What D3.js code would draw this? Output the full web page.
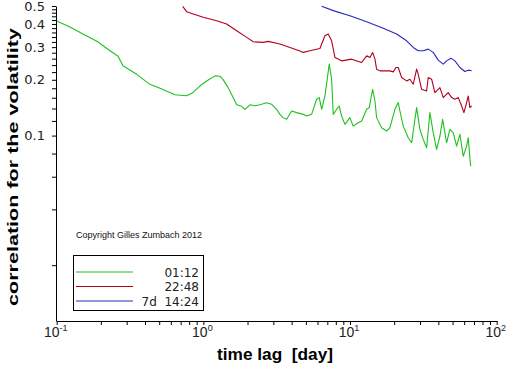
<!DOCTYPE html>
<html><head><meta charset="utf-8">
<script src="https://cdn.jsdelivr.net/npm/d3@7"></script>
<style>
body{margin:0;background:#fff;}
svg{display:block;}
</style></head>
<body>
<script>
// ---- data (lag in days, correlation) ----
const green0112 = [[0.1,0.415],[0.123,0.385],[0.151,0.353],[0.188,0.323],[0.231,0.287],[0.262,0.268],[0.283,0.238],[0.351,0.214],[0.432,0.189],[0.506,0.180],[0.640,0.166],[0.769,0.164],[0.835,0.169],[0.948,0.185],[1.053,0.197],[1.20,0.210],[1.297,0.209],[1.36,0.201],[1.472,0.182],[1.567,0.165],[1.687,0.1466],[1.824,0.1439],[1.921,0.1386],[2.078,0.1466],[2.247,0.1448],[2.431,0.1466],[2.701,0.1503],[2.922,0.1475],[3.16,0.1386],[3.327,0.1302],[3.50,0.125],[3.697,0.1224],[3.998,0.1357],[4.325,0.133],[4.797,0.1302],[5.06,0.1275],[5.472,0.1302],[5.92,0.157],[6.166,0.1603],[6.405,0.1386],[6.745,0.1636],[7.215,0.2428],[7.49,0.2013],[7.68,0.1302],[8.10,0.1386],[8.44,0.1444],[8.76,0.1275],[9.23,0.115],[9.98,0.125],[10.5,0.1125],[11.37,0.1174],[12.0,0.1199],[12.98,0.1386],[13.52,0.1416],[14.26,0.1778],[14.78,0.1537],[15.18,0.125],[16.42,0.1103],[17.77,0.1058],[18.71,0.1103],[20.23,0.1386],[21.31,0.1507],[21.89,0.1357],[23.05,0.1125],[24.93,0.0974],[26.3,0.0915],[27.7,0.1224],[28.45,0.1416],[29.96,0.108],[31.55,0.0954],[33.28,0.086],[35.05,0.133],[36.9,0.1037],[38.93,0.0842],[41.0,0.0994],[42.79,0.1224],[45.55,0.0915],[47.97,0.108],[50.51,0.1037],[53.3,0.0877],[56.14,0.1015],[59.13,0.0774],[62.36,0.0877],[63.94,0.0974],[66.4,0.0684]];
const red2248 = [[0.723,0.498],[0.769,0.466],[0.853,0.453],[0.998,0.435],[1.232,0.4166],[1.441,0.3998],[1.687,0.3677],[1.974,0.3387],[2.189,0.3206],[2.561,0.3182],[2.77,0.3222],[3.327,0.3116],[3.892,0.2989],[4.506,0.2867],[4.797,0.281],[5.33,0.2867],[6.234,0.2952],[6.745,0.3455],[7.10,0.3529],[7.49,0.3246],[7.89,0.2639],[8.76,0.253],[10.25,0.2584],[12.0,0.248],[12.98,0.2692],[13.67,0.2639],[14.26,0.281],[14.78,0.2584],[15.18,0.2282],[15.99,0.2234],[18.71,0.2234],[19.7,0.2207],[20.56,0.233],[21.31,0.233],[22.48,0.2058],[24.31,0.1972],[25.6,0.2014],[26.97,0.1892],[28.45,0.2282],[29.16,0.2144],[30.76,0.1778],[33.28,0.1741],[34.13,0.2058],[36.0,0.2014],[37.9,0.1706],[41.0,0.1816],[43.2,0.1603],[46.7,0.1706],[49.3,0.1603],[51.9,0.157],[54.7,0.1603],[57.65,0.1444],[59.76,0.133],[62.36,0.1507],[63.94,0.1636],[65.67,0.1416],[67.45,0.1444]];
const blue7d1424 = [[6.405,0.498],[7.68,0.472],[9.98,0.443],[12.98,0.4114],[16.84,0.379],[20.78,0.3529],[24.31,0.3246],[26.97,0.2989],[29.16,0.2867],[31.55,0.2867],[34.13,0.2926],[36.9,0.281],[39.93,0.2552],[43.2,0.2428],[45.55,0.253],[48.74,0.2616],[51.9,0.253],[56.14,0.233],[60.7,0.2218],[63.94,0.2254],[67.45,0.2237]];
const seriesNames = ["01:12", "22:48", "7d  14:24"];
const seriesColors = ["#1ec01e", "#b0001e", "#2828c0"];
const xMajorTicks = [0.1, 1, 10, 100];
const xMajorExponents = ["-1", "0", "1", "2"];
const yTickValues = d3.range(1, 26).map(i => +(i * 0.02).toFixed(2));
const yTickLabels = {0.1: "0.1", 0.2: "0.2", 0.3: "0.3", 0.4: "0.4", 0.5: "0.5"};
const xTitle = "time lag  [day]";
const yTitle = "correlation for the volatility";
const copyright = "Copyright Gilles Zumbach 2012";

// ---- layout ----
const W = 512, H = 366;
const svg = d3.select("body").append("svg").attr("width", W).attr("height", H);
const x = d3.scaleLog().domain([0.1, 100]).range([56.7, 496.7]);
const y = d3.scaleLog().domain([0.01, 0.5]).range([321, 6]);

const xMinor = [];
[0.1, 1, 10].forEach(d => { for (let k = 2; k <= 9; k++) xMinor.push(d * k); });

const xAxis = svg.append("g").attr("transform", "translate(0,321)")
  .call(d3.axisBottom(x).tickValues(xMajorTicks.concat(xMinor)).tickSize(4).tickSizeOuter(0).tickFormat(() => ""));
xAxis.select(".domain").attr("stroke", "#000");
xAxis.selectAll(".tick line").attr("stroke", "#000");

const xl = svg.append("g").attr("font-family", "Liberation Sans, Arial, sans-serif").attr("fill", "#222");
xMajorTicks.forEach((v, i) => {
  const t = xl.append("text").attr("x", x(v) - 1).attr("y", 337).attr("text-anchor", "middle").attr("font-size", 14);
  t.append("tspan").text("10");
  t.append("tspan").attr("font-size", 9).attr("dy", -6).text(xMajorExponents[i]);
});

const yAxis = svg.append("g").attr("transform", "translate(56,0)")
  .call(d3.axisLeft(y).tickValues(yTickValues).tickSize(4).tickSizeOuter(0)
    .tickFormat(d => yTickLabels[d] || ""));
yAxis.select(".domain").attr("stroke", "#000");
yAxis.selectAll(".tick line").attr("stroke", "#000");
yAxis.selectAll(".tick text").attr("font-family", "DejaVu Sans, sans-serif").attr("font-size", 13)
  .attr("fill", "#222").attr("x", -11);

const line = d3.line().x(d => x(d[0])).y(d => y(d[1]));
[green0112, red2248, blue7d1424].forEach((s, i) => {
  svg.append("path").datum(s).attr("d", line).attr("fill", "none")
    .attr("stroke", seriesColors[i]).attr("stroke-width", 1.1).attr("stroke-linejoin", "round");
});

// titles
svg.append("text").attr("x", 275).attr("y", 360).attr("text-anchor", "middle")
  .attr("font-family", "Liberation Sans, Arial, sans-serif").attr("font-weight", "bold").attr("font-size", 16)
  .attr("textLength", 116).attr("lengthAdjust", "spacingAndGlyphs")
  .attr("xml:space", "preserve").style("white-space", "pre").text(xTitle);
svg.append("text").attr("transform", "translate(18,167) rotate(-90)").attr("text-anchor", "middle")
  .attr("font-family", "Liberation Sans, Arial, sans-serif").attr("font-weight", "bold").attr("font-size", 15.5)
  .attr("textLength", 278).attr("lengthAdjust", "spacingAndGlyphs").text(yTitle);

// copyright
svg.append("text").attr("x", 76).attr("y", 238)
  .attr("font-family", "Liberation Sans, Arial, sans-serif").attr("font-size", 9).attr("fill", "#111")
  .text(copyright);

// legend
const lg = svg.append("g");
lg.append("rect").attr("x", 73.5).attr("y", 255.5).attr("width", 130).attr("height", 55)
  .attr("fill", "#fff").attr("stroke", "#000");
seriesNames.forEach((n, i) => {
  const yy = 272 + i * 14.5;
  lg.append("line").attr("x1", 76).attr("x2", 133).attr("y1", yy).attr("y2", yy)
    .attr("stroke", seriesColors[i]).attr("stroke-width", 1.1);
  lg.append("text").attr("x", 199).attr("y", yy + 4.5).attr("text-anchor", "end")
    .attr("font-family", "DejaVu Sans, sans-serif").attr("font-size", 12).attr("fill", "#222")
    .attr("xml:space", "preserve").style("white-space", "pre").text(n);
});
</script>
</body></html>
